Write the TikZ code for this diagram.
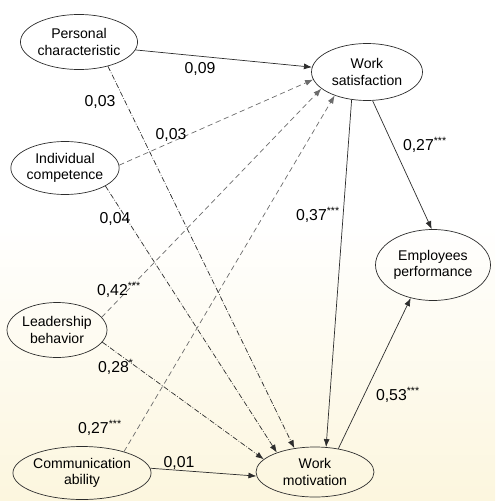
\documentclass[tikz,border=0pt]{standalone}
\usepackage{fontspec}
\setmainfont{Liberation Sans}
\usetikzlibrary{positioning, shapes.geometric, arrows.meta, backgrounds}

\definecolor{paper}{RGB}{252,246,222}
\definecolor{ink}{RGB}{45,45,45}

\begin{document}
\begin{tikzpicture}[
    >={Latex[length=1.6mm, width=1.2mm]},
    thin,
    arrow/.style={
        ->,
        draw=ink,
        thin
    },
    toSat/.style={
        arrow,
        densely dashed,
        draw=ink!70
    },
    toMot/.style={
        arrow,
        densely dash dot
    },
    factor/.style={
        ellipse,
        draw=ink,
        thin,
        inner sep=0pt,
        align=center,
        font=\fontsize{8}{9.5}\selectfont
    },
    coef/.style={
        inner sep=1pt,
        text=black,
        font=\fontsize{9}{10}\selectfont
    }
]

    \useasboundingbox (0,0) rectangle (9.9,-10.02);

    % paper tint
    \shade[top color=white, bottom color=paper] (0,-4.4) rectangle (9.9,-10.02);

    % Factors
    \node[factor, minimum width=2.3cm, minimum height=1.1cm] (pers) at (1.58,-0.84) {Personal\\characteristic};
    \node[factor, minimum width=2.0cm, minimum height=1.06cm] (comp) at (1.30,-3.36) {Individual\\competence};
    \node[factor, minimum width=2.0cm, minimum height=1.1cm] (lead) at (1.14,-6.60) {Leadership\\behavior};
    \node[factor, minimum width=2.62cm, minimum height=1.06cm] (comm) at (1.64,-9.46) {Communication\\ability};

    \node[factor, minimum width=2.22cm, minimum height=1.14cm] (sat) at (7.34,-1.44) {Work\\satisfaction};
    \node[factor, minimum width=2.36cm, minimum height=1.0cm] (mot) at (6.30,-9.44) {Work\\motivation};
    \node[factor, minimum width=2.3cm, minimum height=1.42cm] (perf) at (8.66,-5.30) {Employees\\performance};

    % Paths to work satisfaction
    \draw[arrow] (pers.-8) -- (sat.175);
    \draw[toSat] (comp.3) -- (sat.188);
    \draw[toSat] (lead.16) -- (sat.200);
    \draw[toSat] (comm.27) -- (sat.216);

    % Paths to work motivation
    \draw[toMot] (pers.-40) -- (mot.131);
    \draw[toMot] (comp.-24) -- (mot.153);
    \draw[toMot] (lead.-15) -- (mot.166);
    \draw[arrow] (comm.4) -- (mot.184);
    \draw[arrow] (sat.-119) -- (mot.66);

    % Paths to performance
    \draw[arrow] (sat.-79) -- (perf.92);
    \draw[arrow] (mot.45) -- (perf.-124);

    % Coefficients
    \node[coef] (c1) at (4.00,-1.37) {0,09};
    \node[coef] (c2) at (2.00,-2.03) {0,03};
    \node[coef] (c3) at (3.42,-2.70) {0,03};
    \node[coef] (c4) at (2.30,-4.37) {0,04};
    \node[coef] (c5) at (2.38,-5.80) {0,42\textsuperscript{***}};
    \node[coef] (c6) at (2.32,-7.34) {0,28\textsuperscript{*}};
    \node[coef] (c7) at (2.00,-8.56) {0,27\textsuperscript{***}};
    \node[coef] (c8) at (3.58,-9.26) {0,01};
    \node[coef] (c9) at (6.36,-4.30) {0,37\textsuperscript{***}};
    \node[coef] (c10) at (8.50,-2.90) {0,27\textsuperscript{***}};
    \node[coef] (c11) at (7.96,-7.90) {0,53\textsuperscript{***}};

\end{tikzpicture}
\end{document}
